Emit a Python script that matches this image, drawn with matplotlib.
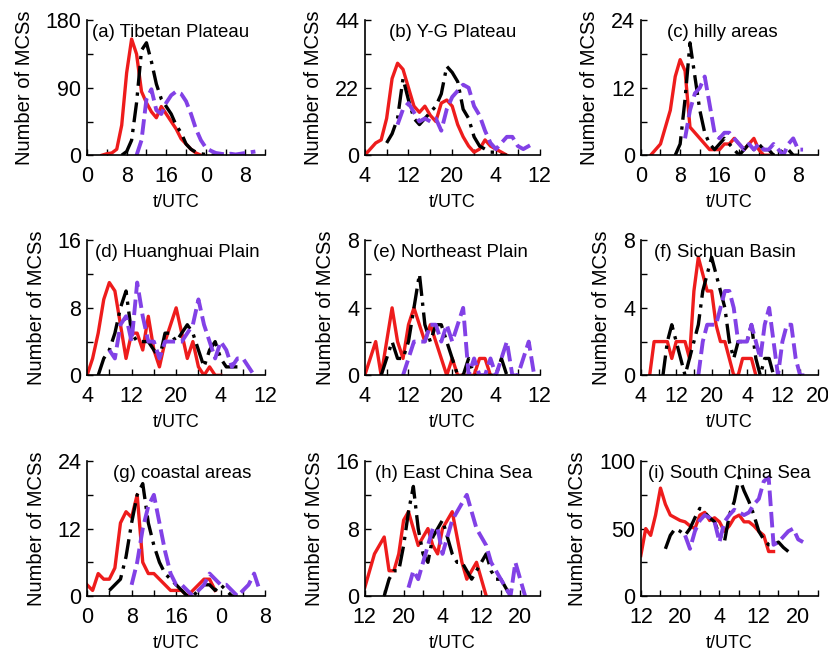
import numpy as np
import matplotlib
matplotlib.use('Agg')
import matplotlib.pyplot as plt
from matplotlib.ticker import MultipleLocator, FixedLocator

plt.rcParams['font.family'] = ['Liberation Sans', 'DejaVu Sans']

# region names and axis ranges
titles = ['(a) Tibetan Plateau', '(b) Y-G Plateau', '(c) hilly areas',
          '(d) Huanghuai Plain', '(e) Northeast Plain', '(f) Sichuan Basin',
          '(g) coastal areas', '(h) East China Sea', '(i) South China Sea']
xlims = [(0, 36), (4, 36), (0, 36), (4, 36), (4, 36), (4, 44), (0, 32), (12, 48), (12, 48)]
ytops = [180, 44, 24, 16, 8, 8, 24, 16, 100]

# hourly counts, (start hour, values); red = solid, black = dash-dot, purple = dashed
a_red = (3, [0, 2, 3, 8, 40, 110, 155, 135, 85, 70, 58, 50, 65, 55, 45, 35, 22, 15, 8, 3, 0])
a_blk = (7, [0, 5, 20, 70, 140, 150, 125, 95, 75, 65, 55, 40, 30, 15, 8, 4, 2, 1, 0, 0])
a_pur = (10, [0, 20, 75, 88, 60, 55, 70, 80, 85, 82, 72, 55, 35, 20, 10, 6, 3, 2, 1, 2, 1, 2, 3, 4, 5])

b_red = (4, [0, 2, 4, 5, 12, 25, 30, 28, 22, 16, 14, 16, 13, 11, 17, 18, 16, 10, 6, 3, 1, 2, 5, 3, 2, 1, 0])
b_blk = (8, [4, 7, 12, 25, 18, 12, 10, 12, 14, 16, 20, 29, 27, 24, 15, 12, 6, 3, 2, 1, 1, 0, 0])
b_pur = (10, [10, 15, 17, 14, 11, 12, 11, 12, 8, 15, 19, 21, 23, 22, 16, 13, 8, 4, 2, 4, 6, 6, 3, 2, 3, 4])

c_red = (2, [0, 1, 2, 5, 8, 14, 17, 15, 5, 4, 3, 2, 1, 1, 1, 2, 2, 3, 2, 1, 2, 3, 1, 0, 0])
c_blk = (7, [0, 2, 10, 20, 14, 8, 4, 2, 1, 2, 3, 2, 1, 0, 1, 2, 1, 2, 1, 1, 0, 0, 1, 1, 0, 0])
c_pur = (9, [3, 8, 11, 12, 14, 9, 4, 3, 4, 4, 3, 2, 1, 2, 1, 2, 1, 1, 2, 1, 0, 2, 3, 1, 1])

d_red = (4, [0, 2, 5, 9, 11, 10, 6, 2, 5, 5, 3, 7, 3, 1, 4, 6, 8, 5, 2, 4, 1, 0, 1, 0, 0])
d_blk = (6, [0, 2, 3, 5, 8, 10, 5, 4, 4, 4, 3, 2, 5, 5, 4, 5, 6, 5, 3, 1, 3, 4, 2, 1, 1, 1])
d_pur = (8, [3, 2, 6, 7, 4, 11, 7, 4, 4, 2, 4, 4, 4, 4, 5, 6, 9, 6, 4, 2, 4, 3, 1, 2, 2, 1, 0])

e_red = (4, [0, 1, 2, 0, 2, 4, 2, 1, 3, 4, 3, 2, 3, 2, 1, 0, 1, 0, 0, 0, 0, 1, 1, 0])
e_blk = (7, [0, 1, 2, 1, 1, 2, 4, 6, 3, 2, 3, 3, 2, 1, 0, 0, 1, 0, 0, 0, 0, 0, 1, 0])
e_pur = (11, [0, 1, 2, 2, 2, 3, 3, 2, 3, 2, 3, 4, 0, 1, 0, 0, 1, 0, 1, 2, 0, 0, 1, 2, 0])

f_red = (6, [0, 2, 2, 2, 2, 1, 2, 2, 2, 1, 5, 7, 6, 5, 5, 3, 2, 2, 1, 0, 0, 1, 1, 1, 0])
f_blk = (9, [0, 2, 3, 2, 1, 0, 1, 2, 3, 5, 6, 7, 6, 5, 4, 2, 1, 2, 2, 2, 3, 1, 0, 1, 1, 0])
f_pur = (17, [0, 2, 3, 3, 3, 4, 5, 5, 4, 2, 2, 2, 3, 2, 1, 3, 4, 2, 0, 2, 3, 3, 1, 0, 0])

g_red = (0, [2, 1, 4, 3, 3, 5, 13, 15, 14, 18, 6, 4, 4, 3, 2, 1, 1, 1, 0, 1, 2, 3, 3, 1])
g_blk = (4, [1, 2, 3, 7, 13, 18, 20, 13, 9, 6, 4, 3, 2, 1, 0, 0, 1, 2, 2, 1, 2, 1, 0, 0])
g_pur = (8, [2, 6, 12, 16, 18, 13, 8, 4, 2, 2, 1, 0, 1, 2, 4, 3, 2, 2, 1, 0, 1, 2, 4, 1])

h_red = (12, [1, 3, 5, 6, 7, 3, 3, 5, 9, 10, 8, 6, 7, 8, 6, 5, 8, 9, 10, 7, 4, 2, 3, 4, 2, 0])
h_blk = (16, [0, 2, 3, 3, 6, 10, 13, 8, 5, 4, 7, 8, 9, 7, 5, 4, 4, 3, 2, 3, 4, 5, 3, 2, 2, 1, 0])
h_pur = (21, [1, 3, 2, 4, 6, 8, 8, 5, 7, 9, 10, 11, 12, 10, 8, 7, 6, 4, 3, 2, 1, 0, 4, 2, 0])

i_red = (12, [30, 50, 45, 60, 80, 68, 60, 58, 56, 55, 52, 50, 60, 62, 56, 58, 55, 48, 52, 58,
              60, 55, 55, 52, 48, 45, 33, 33])
i_blk = (17, [35, 45, 50, 48, 45, 50, 58, 65, 62, 58, 55, 45, 40, 60, 70, 88, 78, 70, 60, 48,
              42, 38, 38, 40, 36, 33])
i_pur = (21, [45, 35, 48, 56, 60, 58, 55, 40, 55, 60, 64, 62, 60, 62, 68, 72, 85, 88, 38, 40,
              44, 48, 50, 42, 40])

series = [(a_red, a_blk, a_pur), (b_red, b_blk, b_pur), (c_red, c_blk, c_pur),
          (d_red, d_blk, d_pur), (e_red, e_blk, e_pur), (f_red, f_blk, f_pur),
          (g_red, g_blk, g_pur), (h_red, h_blk, h_pur), (i_red, i_blk, i_pur)]

red = '#ee1c1c'
purple = '#8241e6'
styles = [dict(color=red, lw=2.4, ls='-'),
          dict(color='black', lw=2.4, ls=(0, (6, 2, 1, 2))),
          dict(color=purple, lw=2.8, ls=(0, (4, 1.5)))]

fig = plt.figure(figsize=(8.29, 6.55), dpi=100)
lefts = [0.105, 0.440, 0.773]
widths = [0.215, 0.211, 0.2135]
bottoms = [0.763, 0.427, 0.090]
text_x = [0.47, 0.50, 0.46, 0.505, 0.49, 0.475, 0.535, 0.51, 0.50]

for k in range(9):
    r, c = divmod(k, 3)
    ax = fig.add_axes([lefts[c], bottoms[r], widths[c], 0.206])
    for (t0, vals), st in zip(series[k], styles):
        x = np.arange(t0, t0 + len(vals))
        ax.plot(x, vals, **st)
    x0, x1 = xlims[k]
    ax.set_xlim(x0, x1)
    ax.set_ylim(0, ytops[k])
    maj = np.arange(x0, x1 + 1, 8)
    ax.xaxis.set_major_locator(FixedLocator(maj))
    ax.set_xticklabels([str(int(v) % 24) for v in maj])
    ax.xaxis.set_minor_locator(MultipleLocator(4))
    yt = ytops[k]
    ax.set_yticks([0, yt / 2, yt])
    ax.set_yticklabels(['0', str(int(yt / 2)), str(yt)])
    ax.yaxis.set_minor_locator(FixedLocator([yt / 4, 3 * yt / 4]))
    ax.tick_params(which='both', direction='in', labelsize=15.5)
    ax.tick_params(axis='x', which='major', pad=8)
    ax.tick_params(axis='y', which='major', pad=4)
    ax.tick_params(which='both', length=4, width=1)
    for s in ['top', 'right']:
        ax.spines[s].set_visible(False)
    for s in ['left', 'bottom']:
        ax.spines[s].set_linewidth(1.2)
    ax.set_xlabel('t/UTC', fontsize=13, labelpad=5)
    ax.set_ylabel('Number of MCSs', fontsize=14.5, labelpad=8.5)
    ax.text(text_x[k], 0.91, titles[k], transform=ax.transAxes, ha='center', va='center',
            fontsize=13.4)

fig.savefig('out.png', dpi=100)
